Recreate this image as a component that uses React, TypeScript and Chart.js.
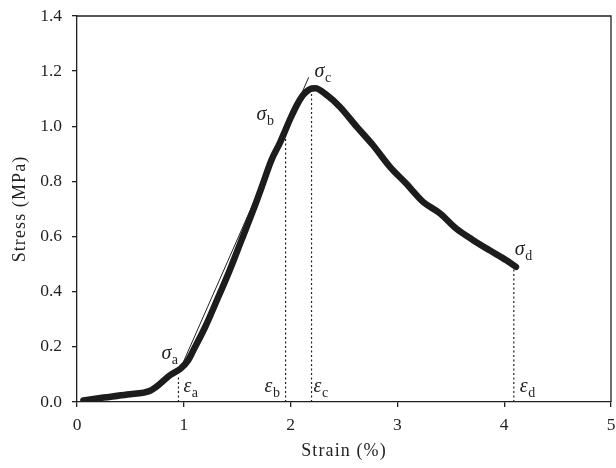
import React, { useEffect, useRef } from "react";
import { Chart, registerables } from "chart.js";

Chart.register(...registerables);

// Stress–strain curve (strain in %, stress in MPa)
const strain = [0.06, 0.25, 0.47, 0.69, 0.78, 0.87, 0.97, 1.04, 1.09, 1.2, 1.31, 1.43, 1.54, 1.65, 1.73, 1.82, 1.9, 1.95, 2.0, 2.07, 2.12, 2.2, 2.23, 2.34, 2.46, 2.62, 2.77, 2.93, 3.08, 3.24, 3.4, 3.55, 3.71, 3.86, 4.02, 4.11];
const stress = [0.006, 0.016, 0.027, 0.042, 0.067, 0.097, 0.121, 0.151, 0.188, 0.272, 0.369, 0.478, 0.587, 0.696, 0.78, 0.877, 0.94, 0.985, 1.03, 1.085, 1.115, 1.137, 1.138, 1.113, 1.071, 0.998, 0.932, 0.853, 0.793, 0.726, 0.684, 0.629, 0.587, 0.551, 0.514, 0.49];

// Tangent (elastic) line
const tangentStrain = [0.99, 2.17];
const tangentStress = [0.14, 1.178];

// Characteristic points a, b, c, d
const markKeys = ["a", "b", "c", "d"];
const markStrain = [0.95, 1.953, 2.196, 4.09];
const markStress = [0.09, 0.975, 1.138, 0.49];

const xTicks = [0, 1, 2, 3, 4, 5];
const yTicks = [0, 0.2, 0.4, 0.6, 0.8, 1.0, 1.2, 1.4];

const xTitle = "Strain (%)";
const yTitle = "Stress (MPa)";

const INK = "#231f20";
const SERIF = "'Liberation Serif', 'DejaVu Serif', serif";

// label offsets in px (layout only)
const sigmaOffsets = [
  [-17, -18],
  [-29, -13],
  [3, -11],
  [1, -12],
];
const epsOffsets = [5, -21, 2, 6];

const labelPlugin = {
  id: "labels",
  afterDatasetsDraw(chart: any) {
    const { ctx, chartArea, scales } = chart;
    const xs = scales.x;
    const ys = scales.y;
    ctx.save();
    // box top/right
    ctx.strokeStyle = INK;
    ctx.lineWidth = 1.3;
    ctx.beginPath();
    ctx.moveTo(chartArea.left, chartArea.top);
    ctx.lineTo(chartArea.right, chartArea.top);
    ctx.lineTo(chartArea.right, chartArea.bottom);
    ctx.stroke();

    ctx.fillStyle = INK;
    ctx.textBaseline = "alphabetic";
    ctx.textAlign = "left";
    const drawSym = (sym: string, sub: string, x: number, y: number) => {
      ctx.font = `italic 20px ${SERIF}`;
      ctx.fillText(sym, x, y);
      const w = ctx.measureText(sym).width;
      ctx.font = `14px ${SERIF}`;
      ctx.fillText(sub, x + w + 0.5, y + 5);
    };
    markKeys.forEach((k, i) => {
      const px = xs.getPixelForValue(markStrain[i]);
      const py = ys.getPixelForValue(markStress[i]);
      drawSym("σ", k, px + sigmaOffsets[i][0], py + sigmaOffsets[i][1]);
      drawSym("ε", k, px + epsOffsets[i], ys.getPixelForValue(0) - 10);
    });

    // axis titles
    ctx.font = `18px ${SERIF}`;
    try {
      (ctx as any).letterSpacing = "1.1px";
    } catch (e) {}
    ctx.textAlign = "center";
    ctx.fillText(xTitle, (chartArea.left + chartArea.right) / 2, 456);
    ctx.translate(25, (chartArea.top + chartArea.bottom) / 2);
    ctx.rotate(-Math.PI / 2);
    ctx.fillText(yTitle, 0, 0);
    ctx.restore();
  },
};

export default function App() {
  const ref = useRef<HTMLCanvasElement | null>(null);
  useEffect(() => {
    if (!ref.current) return;
    const curve = strain.map((x, i) => ({ x, y: stress[i] }));
    const tangent = tangentStrain.map((x, i) => ({ x, y: tangentStress[i] }));
    const dotted = markKeys.map((k, i) => ({
      type: "line" as const,
      label: "e" + k,
      data: [
        { x: markStrain[i], y: 0 },
        { x: markStrain[i], y: markStress[i] },
      ],
      borderColor: INK,
      borderWidth: 1.2,
      borderDash: [2, 2.5],
      pointRadius: 0,
      fill: false,
    }));
    const chart = new Chart(ref.current, {
      type: "line",
      data: {
        datasets: [
          ...dotted,
          {
            label: "tangent",
            data: tangent,
            borderColor: INK,
            borderWidth: 1,
            pointRadius: 0,
            fill: false,
          },
          {
            label: "curve",
            data: curve,
            borderColor: "#1c1c1c",
            borderWidth: 6.5,
            borderCapStyle: "round",
            borderJoinStyle: "round",
            cubicInterpolationMode: "monotone",
            pointRadius: 0,
            fill: false,
          },
        ],
      },
      options: {
        animation: false,
        responsive: true,
        maintainAspectRatio: false,
        layout: { padding: { top: 16, right: 5, left: 0, bottom: 0 } },
        plugins: { legend: { display: false }, tooltip: { enabled: false } },
        scales: {
          x: {
            type: "linear",
            min: 0,
            max: 5,
            afterBuildTicks: (s: any) => {
              s.ticks = xTicks.map((v) => ({ value: v }));
            },
            afterFit: (s: any) => {
              s.height = 66;
              s.paddingLeft = 0;
              s.paddingRight = 0;
            },
            ticks: {
              color: INK,
              font: { family: SERIF, size: 17.5 },
              padding: 8,
              maxRotation: 0,
              callback: (v: any) => String(v),
            },
            grid: {
              drawOnChartArea: false,
              drawTicks: true,
              tickLength: 5,
              color: INK,
              lineWidth: 1.3,
            },
            border: { display: true, color: INK, width: 1.3 },
          },
          y: {
            type: "linear",
            min: 0,
            max: 1.4,
            afterBuildTicks: (s: any) => {
              s.ticks = yTicks.map((v) => ({ value: v }));
            },
            afterFit: (s: any) => {
              s.width = 77;
              s.paddingTop = 0;
              s.paddingBottom = 0;
            },
            ticks: {
              color: INK,
              font: { family: SERIF, size: 17.5 },
              padding: 10,
              callback: (v: any) => Number(v).toFixed(1),
            },
            grid: {
              drawOnChartArea: false,
              drawTicks: true,
              tickLength: 5,
              color: INK,
              lineWidth: 1.3,
            },
            border: { display: true, color: INK, width: 1.3 },
          },
        },
      },
      plugins: [labelPlugin],
    } as any);
    return () => chart.destroy();
  }, []);
  return (
    <div style={{ position: "absolute", left: 0, top: 0, width: 616, height: 468, background: "#fff" }}>
      <canvas ref={ref} />
    </div>
  );
}
